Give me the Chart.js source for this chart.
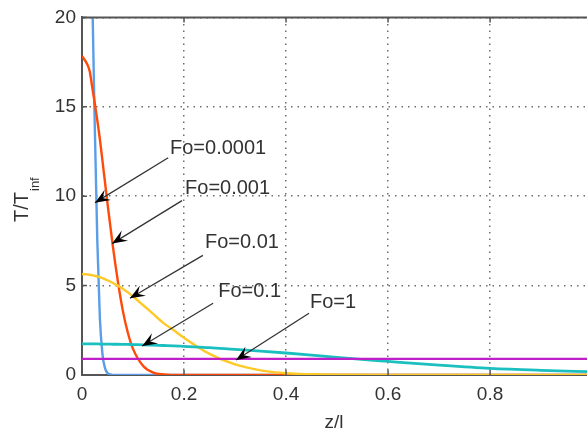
<!DOCTYPE html>
<html>
<head>
<meta charset="utf-8">
<script src="https://cdn.jsdelivr.net/npm/chart.js@4.4.1/dist/chart.umd.min.js"></script>
<style>
  html, body { margin: 0; padding: 0; background: #fff; overflow: hidden; }
  #wrap { position: relative; width: 587px; height: 431px; }
</style>
</head>
<body>
<div id="wrap"><canvas id="myChart"></canvas></div>
<script>
// z/l sample points shared by every curve
var zVals = [0, 0.01, 0.015, 0.02, 0.025, 0.03, 0.035, 0.04, 0.045, 0.05, 0.06, 0.07, 0.08, 0.09, 0.1,
             0.12, 0.14, 0.16, 0.18, 0.2, 0.25, 0.3, 0.35, 0.4, 0.45, 0.5, 0.6, 0.7, 0.8, 0.9, 1.0];

// T/Tinf for each Fo
var fo0001 = [56, 44, 32, 21.5, 14, 7.5, 3.2, 1.2, 0.4, 0.1, 0.01, 0, 0, 0, 0,
              0, 0, 0, 0, 0, 0, 0, 0, 0, 0, 0, 0, 0, 0, 0, 0];
var fo001  = [17.84, 17.4, 17.0, 16.1, 15.2, 14.25, 13.2, 12.0, 10.8, 9.6, 7.3, 5.3, 3.6, 2.35, 1.46,
              0.5, 0.13, 0.03, 0.005, 0, 0, 0, 0, 0, 0, 0, 0, 0, 0, 0, 0];
var fo01   = [5.64, 5.63, 5.61, 5.58, 5.55, 5.51, 5.47, 5.42, 5.36, 5.3, 5.16, 5.0, 4.83, 4.62, 4.39,
              3.9, 3.4, 2.9, 2.5, 2.08, 1.18, 0.59, 0.26, 0.1, 0.04, 0.01, 0, 0, 0, 0, 0];
var fo1    = [1.74, 1.74, 1.74, 1.74, 1.74, 1.74, 1.73, 1.73, 1.73, 1.73, 1.72, 1.72, 1.71, 1.71, 1.7,
              1.69, 1.67, 1.65, 1.63, 1.6, 1.53, 1.43, 1.34, 1.23, 1.11, 0.98, 0.76, 0.55, 0.37, 0.26, 0.18];
var foOne  = [0.9, 0.9, 0.9, 0.9, 0.9, 0.9, 0.9, 0.9, 0.9, 0.9, 0.9, 0.9, 0.9, 0.9, 0.9,
              0.9, 0.9, 0.9, 0.9, 0.9, 0.9, 0.9, 0.9, 0.9, 0.9, 0.9, 0.9, 0.9, 0.9, 0.9, 0.9];

var xTicks = [0, 0.2, 0.4, 0.6, 0.8];
var yTicks = [0, 5, 10, 15, 20];
var foNames = ['Fo=0.0001', 'Fo=0.001', 'Fo=0.01', 'Fo=0.1', 'Fo=1'];

// annotation anchors in data units: text start, arrow tail, arrow tip
var textAt  = [[0.1725, 12.37], [0.202, 10.14], [0.241, 7.08], [0.267, 4.35], [0.447, 3.73]];
var tailAt  = [[0.169, 12.15], [0.196, 9.75], [0.237, 6.69], [0.257, 4.01], [0.445, 3.45]];
var tipAt   = [[0.0255, 9.64], [0.059, 7.35], [0.094, 4.29], [0.118, 1.62], [0.302, 0.84]];

var FONT = '"Liberation Sans", Arial, sans-serif';

function pts(vals) {
    return zVals.map(function (z, i) { return { x: z, y: vals[i] }; });
}

function drawArrow(ctx, x0, y0, x1, y1) {
    ctx.strokeStyle = '#333';
    ctx.lineWidth = 1.3;
    ctx.beginPath();
    ctx.moveTo(x0, y0);
    ctx.lineTo(x1, y1);
    ctx.stroke();
    var a = Math.atan2(y1 - y0, x1 - x0), L = 15, W = 6;
    ctx.save();
    ctx.translate(x1, y1);
    ctx.rotate(a);
    ctx.beginPath();
    ctx.moveTo(0, 0);
    ctx.lineTo(-L, -W);
    ctx.lineTo(-L * 0.6, 0);
    ctx.lineTo(-L, W);
    ctx.closePath();
    ctx.fillStyle = '#000';
    ctx.fill();
    ctx.restore();
}

// matlab style box, inner ticks, titles and arrows
var matlabBox = {
    id: 'matlabBox',
    afterDraw: function (chart) {
        var ctx = chart.ctx, a = chart.chartArea;
        var xs = chart.scales.x, ys = chart.scales.y;
        ctx.save();
        ctx.strokeStyle = '#555';
        ctx.lineWidth = 2;
        ctx.beginPath();
        ctx.moveTo(a.left, a.top);
        ctx.lineTo(a.right, a.top);
        ctx.stroke();

        ctx.lineWidth = 1.5;
        ctx.beginPath();
        yTicks.forEach(function (v) {
            var y = ys.getPixelForValue(v);
            ctx.moveTo(a.left, y); ctx.lineTo(a.left + 5, y);
        });
        xTicks.forEach(function (v) {
            var x = xs.getPixelForValue(v);
            ctx.moveTo(x, a.bottom); ctx.lineTo(x, a.bottom - 5);
            ctx.moveTo(x, a.top); ctx.lineTo(x, a.top + 5);
        });
        ctx.stroke();

        for (var i = 0; i < foNames.length; i++) {
            drawArrow(ctx,
                xs.getPixelForValue(tailAt[i][0]), ys.getPixelForValue(tailAt[i][1]),
                xs.getPixelForValue(tipAt[i][0]), ys.getPixelForValue(tipAt[i][1]));
            ctx.fillStyle = '#333';
            ctx.font = '20px ' + FONT;
            ctx.textAlign = 'left';
            ctx.textBaseline = 'alphabetic';
            ctx.fillText(foNames[i], xs.getPixelForValue(textAt[i][0]), ys.getPixelForValue(textAt[i][1]));
        }

        // x title
        ctx.fillStyle = '#333';
        ctx.font = '19px ' + FONT;
        ctx.textAlign = 'center';
        ctx.fillText('z/l', 334, 428);

        // y title with subscript
        ctx.translate(28, 222);
        ctx.rotate(-Math.PI / 2);
        ctx.textAlign = 'left';
        ctx.font = '20px ' + FONT;
        ctx.fillText('T/T', 0, 0);
        var w = ctx.measureText('T/T').width;
        ctx.font = '13px ' + FONT;
        ctx.fillText('inf', w + 1, 11);
        ctx.restore();
    }
};

var ctx = document.getElementById('myChart').getContext('2d');
var myChart = new Chart(ctx, {
    type: 'line',
    data: {
        datasets: [
            { label: foNames[4], data: pts(foOne), borderColor: '#bf1fc9' },
            { label: foNames[3], data: pts(fo1), borderColor: '#1cbfbf', borderWidth: 2.8 },
            { label: foNames[2], data: pts(fo01), borderColor: '#ffc928' },
            { label: foNames[1], data: pts(fo001), borderColor: '#ff4a0a' },
            { label: foNames[0], data: pts(fo0001), borderColor: '#5b9ee8' }
        ]
    },
    options: {
        responsive: true,
        maintainAspectRatio: false,
        animation: false,
        layout: { padding: { top: 16, left: 0, right: 0, bottom: 0 } },
        plugins: { legend: { display: false }, tooltip: { enabled: false } },
        elements: {
            point: { radius: 0 },
            line: { borderWidth: 2.4, cubicInterpolationMode: 'monotone' }
        },
        scales: {
            x: {
                type: 'linear',
                min: 0,
                max: 0.99,
                afterBuildTicks: function (s) { s.ticks = xTicks.map(function (v) { return { value: v }; }); },
                afterFit: function (s) { s.height = 56; },
                grid: { color: '#6e6e6e', lineWidth: 1.5, drawTicks: false },
                border: { display: true, color: '#555', width: 2, dash: [1.5, 5] },
                ticks: {
                    padding: 8, color: '#333', font: { size: 19, family: FONT },
                    maxRotation: 0, autoSkip: false,
                    callback: function (v) { return String(v); }
                }
            },
            y: {
                type: 'linear',
                min: 0,
                max: 20,
                afterBuildTicks: function (s) { s.ticks = yTicks.map(function (v) { return { value: v }; }); },
                afterFit: function (s) { s.width = 82; },
                grid: { color: '#6e6e6e', lineWidth: 1.5, drawTicks: false },
                border: { display: true, color: '#555', width: 2, dash: [1.5, 5] },
                ticks: {
                    padding: 6, color: '#333', font: { size: 19, family: FONT },
                    callback: function (v) { return String(v); }
                }
            }
        }
    },
    plugins: [matlabBox]
});
</script>
</body>
</html>
